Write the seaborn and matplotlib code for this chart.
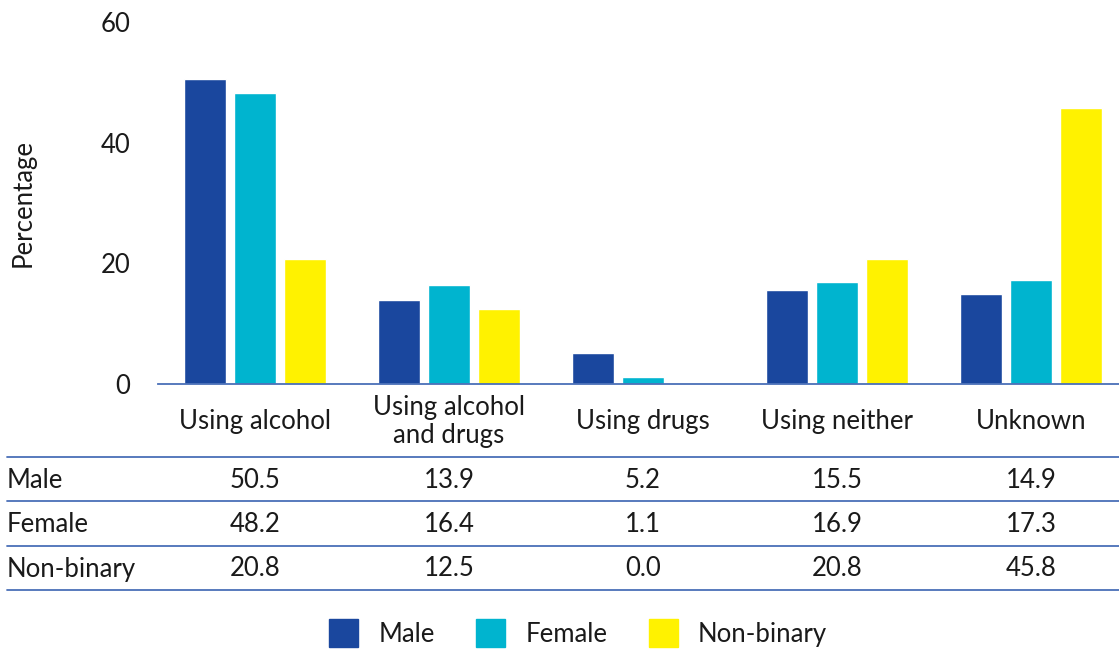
import matplotlib
matplotlib.use("Agg")
import matplotlib.pyplot as plt
import seaborn as sns
import pandas as pd
from matplotlib.lines import Line2D

categories = ["Using alcohol", "Using alcohol\nand drugs", "Using drugs", "Using neither", "Unknown"]
groups = ["Male", "Female", "Non-binary"]
male = [50.5, 13.9, 5.2, 15.5, 14.9]
female = [48.2, 16.4, 1.1, 16.9, 17.3]
nonbinary = [20.8, 12.5, 0.0, 20.8, 45.8]
yticks = [0, 20, 40, 60]

colors = ["#1A479E", "#00B4CF", "#FFF200"]
line_color = "#4A70B8"

sns.set_style("white")
plt.rcParams["font.family"] = ["Lato", "DejaVu Sans"]
FS = 18.5
TC = "#1a1a1a"

rows = []
for g, vals in zip(groups, [male, female, nonbinary]):
    for c, v in zip(categories, vals):
        rows.append({"category": c, "group": g, "value": v})
df = pd.DataFrame(rows)

W, H = 1119, 653
fig = plt.figure(figsize=(W / 100, H / 100), dpi=100)
ax = fig.add_axes([158 / W, (H - 384) / H, 970 / W, 362 / H])

sns.barplot(data=df, x="category", y="value", hue="group", order=categories,
            hue_order=groups, palette=colors, width=0.77, gap=0.15,
            saturation=1, ax=ax, legend=False)

ax.set_xlim(-0.5, 4.5)
ax.set_ylim(0, 60)
ax.set_yticks(yticks)
ax.set_yticklabels([str(t) for t in yticks], fontsize=FS, color=TC)
ax.tick_params(axis="y", length=0, pad=20)
ax.tick_params(axis="x", length=0, pad=27)
ax.set_xticks(range(len(categories)))
ax.set_xticklabels(categories, fontsize=FS, color=TC, linespacing=1.1)
for lab in ax.get_xticklabels():
    lab.set_va("center")
ax.set_xlabel("")
ax.set_ylabel("Percentage", fontsize=FS, color=TC)
ax.yaxis.set_label_coords(-0.126, 0.5)
for s in ["top", "right", "left"]:
    ax.spines[s].set_visible(False)
ax.spines["bottom"].set_color(line_color)
ax.spines["bottom"].set_linewidth(1.3)

# data table
line_ys = [457, 501, 546, 590]
for ly in line_ys:
    fig.add_artist(Line2D([7 / W, 1.0], [1 - ly / H, 1 - ly / H], color=line_color, lw=1.3))
row_ys = [480, 524, 569]
centers = [158 + 97 + 194 * i for i in range(len(categories))]
for ry, g, vals in zip(row_ys, groups, [male, female, nonbinary]):
    fig.text(7 / W, 1 - ry / H, g, fontsize=FS, va="center", ha="left", color=TC)
    for cx, v in zip(centers, vals):
        fig.text(cx / W, 1 - ry / H, f"{v:.1f}", fontsize=FS, va="center", ha="center", color=TC)

handles = [plt.Rectangle((0, 0), 1, 1, color=c) for c in colors]
fig.legend(handles, groups, loc="center", bbox_to_anchor=(578 / W, 1 - 633 / H), ncol=3,
           frameon=False, fontsize=FS, handlelength=1.13, handleheight=1.25,
           handletextpad=0.8, columnspacing=1.6, labelcolor=TC)

fig.savefig("out.png", dpi=100)
